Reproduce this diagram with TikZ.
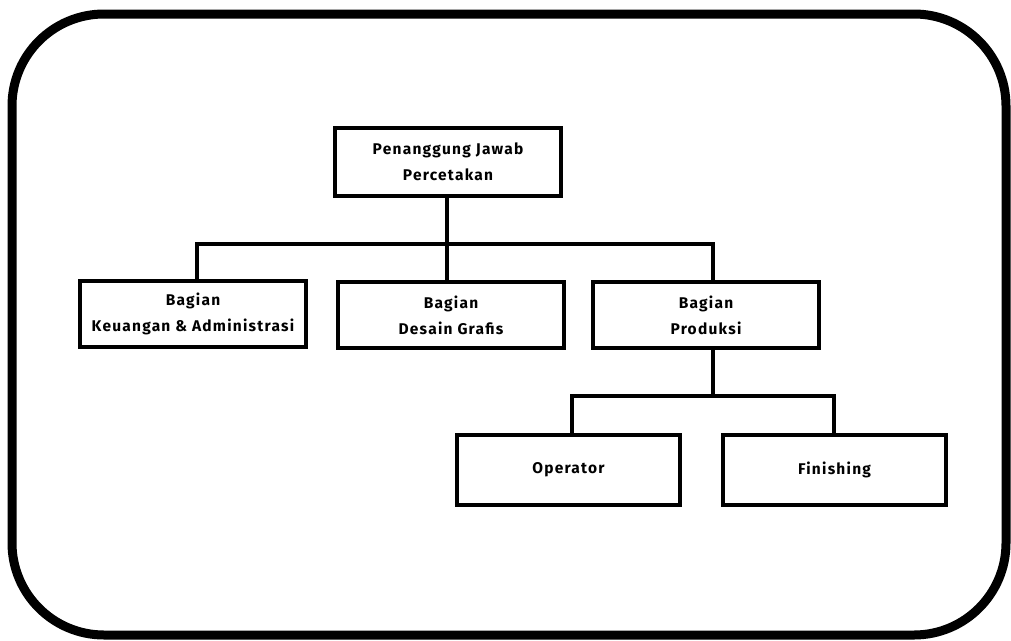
\documentclass[tikz,border=0pt]{standalone}
\usepackage{fontspec}
\setmainfont{Fira Sans}[LetterSpace=8]
\begin{document}
\begin{tikzpicture}[x=1pt,y=-1pt,
  box/.style={draw=black,line width=4pt,fill=white,minimum width=226pt,minimum height=66pt,
    align=center,inner sep=0pt,font=\fontsize{15.5}{26}\selectfont\bfseries},
  conn/.style={draw=black,line width=4pt},
  frame/.style={draw=black,line width=9pt,rounded corners=92pt}]
\useasboundingbox (0,0) rectangle (1011,640);
\draw[frame] (12,14) rectangle (1006,635);
\node[box,minimum height=68pt] (top) at (448,162) {Penanggung Jawab\\Percetakan};
\node[box] (keu) at (193,314) {Bagian\\Keuangan \& Administrasi};
\node[box] (des) at (451,315) {Bagian\\Desain Grafis};
\node[box] (prod) at (706,315) {Bagian\\Produksi};
\node[box,minimum width=223pt,minimum height=70pt] (op) at (568.5,470) {Operator};
\node[box,minimum width=223pt,minimum height=70pt] (fin) at (834.5,470) {Finishing};
\coordinate (b1) at (447,244);
\coordinate (b1l) at (197,244);
\coordinate (b1r) at (713,244);
\coordinate (b2) at (713,396);
\coordinate (b2l) at (572,396);
\coordinate (b2r) at (834,396);
\draw[conn] (top.south -| b1) -- (b1);
\draw[conn,line cap=rect] (b1l) -- (b1r);
\draw[conn] (b1l) -- (keu.north -| b1l);
\draw[conn] (b1) -- (des.north -| b1);
\draw[conn] (b1r) -- (prod.north -| b1r);
\draw[conn] (prod.south -| b2) -- (b2);
\draw[conn,line cap=rect] (b2l) -- (b2r);
\draw[conn] (b2l) -- (op.north -| b2l);
\draw[conn] (b2r) -- (fin.north -| b2r);
\end{tikzpicture}
\end{document}
